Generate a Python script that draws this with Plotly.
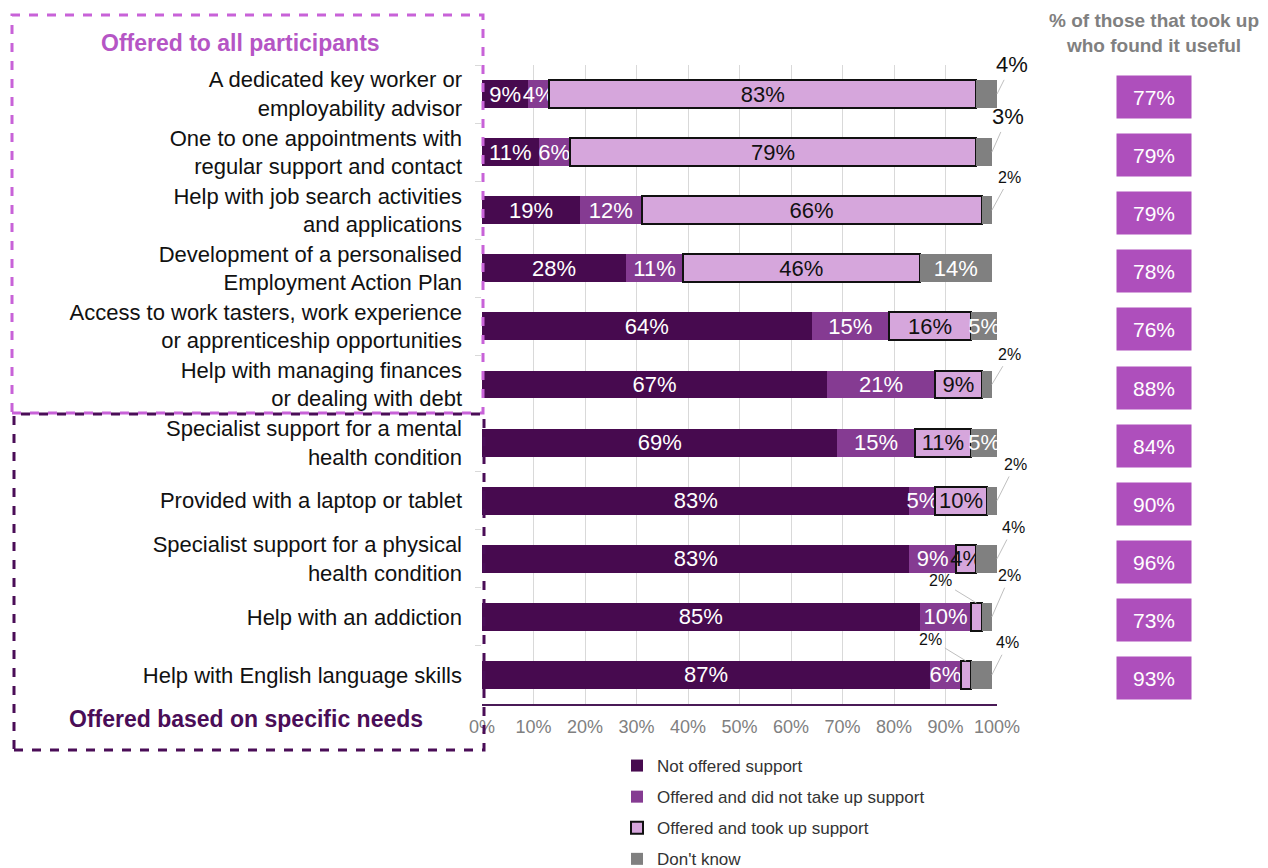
import plotly.graph_objects as go

# Support types (top to bottom)
categories = [
    "A dedicated key worker or<br>employability advisor",
    "One to one appointments with<br>regular support and contact",
    "Help with job search activities<br>and applications",
    "Development of a personalised<br>Employment Action Plan",
    "Access to work tasters, work experience<br>or apprenticeship opportunities",
    "Help with managing finances<br>or dealing with debt",
    "Specialist support for a mental<br>health condition",
    "Provided with a laptop or tablet",
    "Specialist support for a physical<br>health condition",
    "Help with an addiction",
    "Help with English language skills",
]

not_offered = [9, 11, 19, 28, 64, 67, 69, 83, 83, 85, 87]
offered_not_taken = [4, 6, 12, 11, 15, 21, 15, 5, 9, 10, 6]
offered_taken = [83, 79, 66, 46, 16, 9, 11, 10, 4, 2, 2]
dont_know = [4, 3, 2, 14, 5, 2, 5, 2, 4, 2, 4]

# % of those that took up who found it useful
found_useful = [77, 79, 79, 78, 76, 88, 84, 90, 96, 73, 93]

series_names = ["Not offered support", "Offered and did not take up support",
                "Offered and took up support", "Don't know"]

C_DARK = "#470A4F"
C_MID = "#853B92"
C_LIGHT = "#D6A6DC"
C_GREY = "#808080"
C_BOX = "#AE4FBC"
FONT = "Liberation Sans, Arial, sans-serif"

W, H = 1268, 868
PL, PR, PT, PB = 482, 997, 65, 704  # plot area in pixels


def px(x):
    return (x - PL) / (PR - PL)


def py(y):
    return (PB - y) / (PB - PT)


n = len(categories)

# which don't-know values sit inside their segment
dk_inside = [v >= 5 for v in dont_know]
# took-up labels that are drawn outside with a leader line
tu_inside = [v >= 4 for v in offered_taken]

LBL = 22

fig = go.Figure()

fig.add_trace(go.Bar(
    y=categories, x=not_offered, orientation="h", name=series_names[0],
    marker=dict(color=C_DARK, line=dict(width=0)),
    text=[f"{v}%" for v in not_offered], textposition="inside",
    insidetextanchor="middle", textangle=0, constraintext="none",
    textfont=dict(color="white", size=LBL, family=FONT),
    legendgroup="a", hoverinfo="skip",
))
fig.add_trace(go.Bar(
    y=categories, x=offered_not_taken, orientation="h", name=series_names[1],
    marker=dict(color=C_MID, line=dict(width=0)),
    text=[f"{v}%" for v in offered_not_taken], textposition="inside",
    insidetextanchor="middle", textangle=0, constraintext="none",
    textfont=dict(color="white", size=LBL, family=FONT),
    legendgroup="b", hoverinfo="skip",
))
fig.add_trace(go.Bar(
    y=categories, x=offered_taken, orientation="h", name=series_names[2],
    marker=dict(color=C_LIGHT, line=dict(width=2, color="#111111")),
    text=[f"{v}%" if ins else "" for v, ins in zip(offered_taken, tu_inside)],
    textposition="inside", insidetextanchor="middle", textangle=0,
    constraintext="none",
    textfont=dict(color="#111111", size=LBL, family=FONT),
    legendgroup="c", hoverinfo="skip",
))
fig.add_trace(go.Bar(
    y=categories, x=dont_know, orientation="h", name=series_names[3],
    marker=dict(color=C_GREY, line=dict(width=0)),
    text=[f"{v}%" if ins else "" for v, ins in zip(dont_know, dk_inside)],
    textposition="inside", insidetextanchor="middle", textangle=0,
    constraintext="none",
    textfont=dict(color="white", size=LBL, family=FONT),
    legendgroup="d", hoverinfo="skip",
))

annotations = []

# outside don't-know labels with leader lines
dk_offsets = {0: (15, -30, 22), 1: (16, -36, 22), 2: (18, -33, 16), 5: (18, -30, 16),
              7: (18, -36, 16), 8: (16, -31, 16), 9: (18, -41, 16), 10: (16, -32, 16)}
for i, (ax, ay, fs) in dk_offsets.items():
    total = not_offered[i] + offered_not_taken[i] + offered_taken[i] + dont_know[i]
    annotations.append(dict(
        x=total, y=i, xref="x", yref="y", text=f"{dont_know[i]}%",
        showarrow=True, arrowhead=0, arrowwidth=1, arrowcolor="#BFBFBF",
        ax=ax, ay=ay, standoff=0, startstandoff=2,
        font=dict(size=fs, color="#111111", family=FONT),
    ))

# outside took-up labels for the thinnest segments
for i, v in enumerate(offered_taken):
    if tu_inside[i]:
        continue
    mid = not_offered[i] + offered_not_taken[i] + v / 2
    annotations.append(dict(
        x=mid, y=i - 0.24, xref="x", yref="y", text=f"{v}%",
        showarrow=True, arrowhead=0, arrowwidth=1, arrowcolor="#BFBFBF",
        ax=-36, ay=-22, standoff=0, startstandoff=2,
        font=dict(size=16, color="#111111", family=FONT),
    ))

# "found it useful" column
for i, v in enumerate(found_useful):
    annotations.append(dict(
        x=px(1154), y=i, xref="paper", yref="y", yshift=-3,
        xanchor="center", yanchor="middle",
        text=f"{v}%", showarrow=False, bgcolor=C_BOX,
        width=72, height=40, valign="middle",
        font=dict(size=21, color="white", family=FONT),
    ))

annotations.append(dict(
    x=px(1154), y=py(33), xref="paper", yref="paper",
    xanchor="center", yanchor="middle",
    text="<b>% of those that took up<br>who found it useful</b>",
    showarrow=False, font=dict(size=19, color="#808080", family=FONT),
))
annotations.append(dict(
    x=px(240), y=py(43), xref="paper", yref="paper",
    xanchor="center", yanchor="middle",
    text="<b>Offered to all participants</b>", showarrow=False,
    font=dict(size=23, color="#B555C5", family=FONT),
))
annotations.append(dict(
    x=px(246), y=py(719), xref="paper", yref="paper",
    xanchor="center", yanchor="middle",
    text="<b>Offered based on specific needs</b>", showarrow=False,
    font=dict(size=23, color="#4A0D57", family=FONT),
))

shapes = [
    dict(type="rect", xref="paper", yref="paper",
         x0=px(12), x1=px(483), y0=py(413), y1=py(15),
         line=dict(color="#C862D8", width=3, dash="dash"), layer="above"),
    dict(type="rect", xref="paper", yref="paper",
         x0=px(14), x1=px(484), y0=py(750), y1=py(414),
         line=dict(color="#4A0D57", width=3, dash="dash"), layer="above"),
]

fig.update_layout(
    width=W, height=H,
    margin=dict(l=PL, r=W - PR, t=PT, b=H - PB, autoexpand=False),
    barmode="stack", bargap=0.52,
    plot_bgcolor="white", paper_bgcolor="white",
    font=dict(family=FONT, color="#111111"),
    xaxis=dict(range=[0, 100], dtick=10, ticksuffix="%", showgrid=True,
               gridcolor="#D9D9D9", gridwidth=1, zeroline=False,
               showline=True, linecolor="#4A1A57", linewidth=2,
               tickfont=dict(size=18, color="#808080", family=FONT),
               ticks="", ticklabelstandoff=5, fixedrange=True,
               automargin=False),
    yaxis=dict(type="category", range=[n - 0.5, -0.5], autorange=False,
               showgrid=False, zeroline=False, ticks="outside",
               tickson="boundaries", ticklen=6, tickcolor="#D9D9D9",
               ticklabelstandoff=19,
               tickfont=dict(size=22, color="#111111", family=FONT),
               fixedrange=True, automargin=False),
    legend=dict(x=px(617), y=py(748), xanchor="left", yanchor="top",
                traceorder="grouped", tracegroupgap=6,
                font=dict(size=17, color="#333333", family=FONT),
                itemwidth=30, bgcolor="rgba(0,0,0,0)"),
    annotations=annotations, shapes=shapes,
    showlegend=True,
)

fig.write_html("out.html")
